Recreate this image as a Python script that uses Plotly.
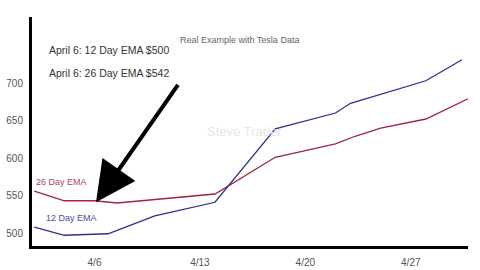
import plotly.graph_objects as go

# April 2020 day-of-month positions and EMA values (Tesla)
ema12_days = [2, 4, 6.9, 10, 14, 18, 22, 23, 28, 30.4]
ema12_vals = [508, 497, 499, 523, 541, 639, 660, 673, 703, 731]
ema26_days = [2, 4, 6, 7.5, 14, 18, 22, 23.3, 25, 28, 30.8]
ema26_vals = [556, 543, 543, 540, 552, 601, 619, 629, 640, 652, 679]

tick_days = [6, 13, 20, 27]
tick_labels = ["4/6", "4/13", "4/20", "4/27"]
y_ticks = [500, 550, 600, 650, 700]

FONT = "Liberation Sans, Arial, sans-serif"
BLUE = "#2e2e8c"
RED = "#a3223f"

fig = go.Figure()
fig.add_trace(go.Scatter(x=ema26_days, y=ema26_vals, mode="lines",
                         line=dict(color=RED, width=1.3), showlegend=False))
fig.add_trace(go.Scatter(x=ema12_days, y=ema12_vals, mode="lines",
                         line=dict(color=BLUE, width=1.3), showlegend=False))

fig.update_layout(
    width=480, height=270,
    margin=dict(l=32, r=12, t=17, b=24),
    paper_bgcolor="white", plot_bgcolor="white",
    font=dict(family=FONT, color="#555555", size=10),
    xaxis=dict(range=[1.85, 30.8], tickvals=tick_days, ticktext=tick_labels,
               showgrid=False, zeroline=False, showline=True, linecolor="black",
               linewidth=3, ticks="", ticklabelstandoff=5, automargin=False,
               tickfont=dict(size=10, color="#555")),
    yaxis=dict(range=[482.7, 788], tickvals=y_ticks, showgrid=False,
               zeroline=False, showline=True, linecolor="black", linewidth=3,
               ticks="", ticklabelstandoff=4, automargin=False,
               tickfont=dict(size=10, color="#555")),
    annotations=[
        dict(text="Real Example with Tesla Data", xref="paper", yref="paper",
             x=(178 - 32) / 436, y=(246 - 40) / 229, xanchor="left", yanchor="middle",
             showarrow=False, font=dict(size=9, color="#666")),
        dict(text="April 6: 12 Day EMA $500", xref="paper", yref="paper",
             x=(47 - 32) / 436, y=(246 - 50) / 229, xanchor="left", yanchor="middle",
             showarrow=False, font=dict(size=10.5, color="#333")),
        dict(text="April 6: 26 Day EMA $542", xref="paper", yref="paper",
             x=(47 - 32) / 436, y=(246 - 73) / 229, xanchor="left", yanchor="middle",
             showarrow=False, font=dict(size=10.5, color="#333")),
        dict(text="Steve Trader", xref="paper", yref="paper",
             x=(205 - 32) / 436, y=(246 - 131) / 229, xanchor="left", yanchor="middle",
             showarrow=False, font=dict(size=13, color="#e6e6e6")),
        dict(text="26 Day EMA", xref="paper", yref="paper",
             x=(34 - 32) / 436, y=(246 - 182) / 229, xanchor="left", yanchor="middle",
             showarrow=False, font=dict(size=9, color="#b0445a")),
        dict(text="12 Day EMA", xref="paper", yref="paper",
             x=(44 - 32) / 436, y=(246 - 218) / 229, xanchor="left", yanchor="middle",
             showarrow=False, font=dict(size=9, color="#4a4aa0")),
        dict(text="", x=6.1, y=541, xref="x", yref="y", showarrow=True,
             ax=83, ay=-119, arrowhead=2, arrowwidth=4, arrowsize=2.0,
             arrowcolor="black"),
    ],
)

fig.write_html("out.html")
